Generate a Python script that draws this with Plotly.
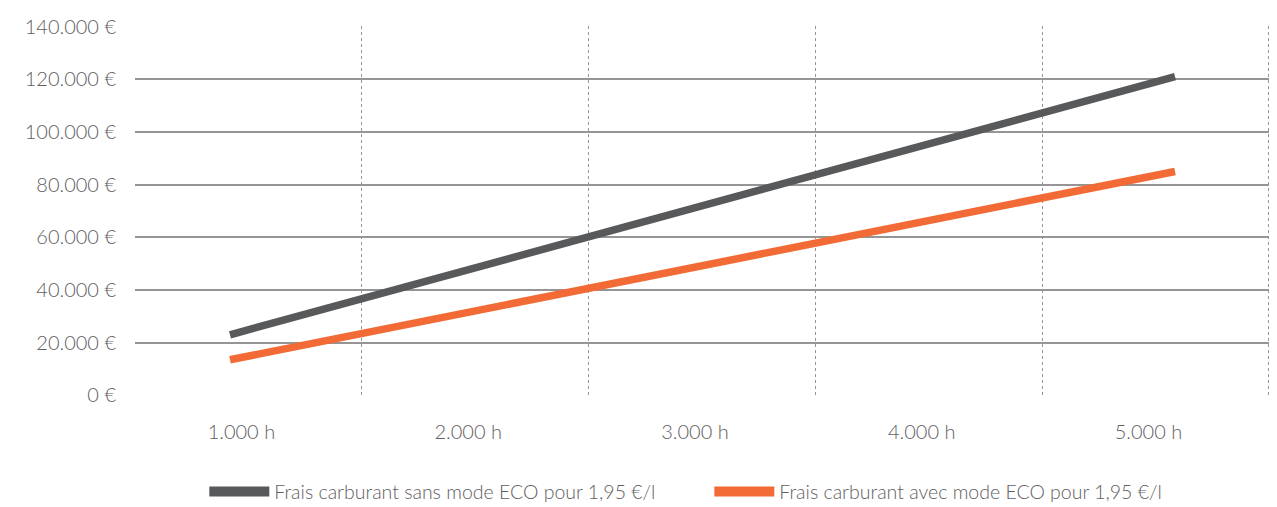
import plotly.graph_objects as go

hours = [1000, 2000, 3000, 4000, 5000]
hour_labels = ["1.000 h", "2.000 h", "3.000 h", "4.000 h", "5.000 h"]
sans_eco = [23000, 47500, 72000, 96500, 121000]
avec_eco = [13500, 31400, 49300, 67100, 85000]
y_ticks = [0, 20000, 40000, 60000, 80000, 100000, 120000, 140000]
y_labels = ["0 €", "20.000 €", "40.000 €", "60.000 €", "80.000 €", "100.000 €", "120.000 €", "140.000 €"]
name_sans = "Frais carburant sans mode ECO pour 1,95 €/l"
name_avec = "Frais carburant avec mode ECO pour 1,95 €/l"

GRAY = "#58595b"
ORANGE = "#f26a35"
TXT = "#5f6062"
GRID = "#959595"
FONT = "Lato"

fig = go.Figure()
fig.add_trace(go.Scatter(x=hours, y=sans_eco, mode="lines", xaxis="x2",
                         line=dict(color=GRAY, width=7.5), showlegend=False, hoverinfo="skip"))
fig.add_trace(go.Scatter(x=hours, y=avec_eco, mode="lines", xaxis="x2",
                         line=dict(color=ORANGE, width=7.5), showlegend=False, hoverinfo="skip"))
# legend entries
fig.add_trace(go.Scatter(x=[None], y=[None], mode="lines", name=name_sans,
                         line=dict(color=GRAY, width=16)))
fig.add_trace(go.Scatter(x=[None], y=[None], mode="lines", name=name_avec,
                         line=dict(color=ORANGE, width=16)))

# page body has an 8px default margin, so the figure is placed 8px in
fig.update_layout(
    width=1262, height=499,
    margin=dict(l=127, r=0, t=18, b=111, autoexpand=False),
    paper_bgcolor="white", plot_bgcolor="white",
    font=dict(family=FONT, color=TXT, size=20, weight=300),
    xaxis=dict(range=[500, 5505], tickvals=hours, ticktext=hour_labels,
               showgrid=False, zeroline=False, showline=False, ticks="",
               ticklabelstandoff=22, ticklabelshift=-7,
               tickfont=dict(size=20, color=TXT, weight=300),
               minor=dict(tickmode="array", tickvals=[1500, 2500, 3500, 4500, 5500],
                          showgrid=True, gridcolor=GRID, griddash="dot", gridwidth=1.3)),
    xaxis2=dict(range=[597.9, 5402], overlaying="x", visible=False),
    yaxis=dict(range=[-250, 140250], tickvals=y_ticks, ticktext=y_labels,
               showgrid=True, gridcolor=GRID, gridwidth=1.5,
               zeroline=False, showline=False, ticks="",
               ticklabelstandoff=18, tickfont=dict(size=20, color=TXT, weight=300)),
    legend=dict(orientation="h", x=0.506, xanchor="center", y=-0.206, yanchor="top",
                font=dict(size=19.5, color=TXT, weight=300), itemwidth=60,
                entrywidth=430, traceorder="normal"),
)
fig.write_html("out.html")
